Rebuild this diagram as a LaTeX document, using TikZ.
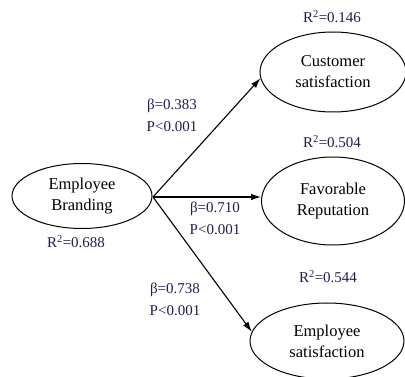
\documentclass[tikz,border=0pt]{standalone}
\usepackage{fontspec}
\setmainfont{Liberation Serif}
\usetikzlibrary{shapes.geometric,arrows.meta}
\definecolor{statcol}{RGB}{30,30,75}
\tikzset{
  var/.style={draw=black, line width=1pt, ellipse, inner sep=0pt, align=center,
    font=\fontsize{16.5}{21}\selectfont},
  stat/.style={text=statcol, inner sep=0pt, align=center, font=\fontsize{15}{22}\selectfont},
  path/.style={line width=1.1pt, -{Latex[length=10pt,width=6.5pt]}}
}
\begin{document}
\begin{tikzpicture}[x=1pt,y=-1pt]
\useasboundingbox (0,0) rectangle (405,377);
\node[var, minimum width=140pt, minimum height=65pt] (eb) at (82,196) {Employee\\Branding};
\node[var, minimum width=146pt, minimum height=80pt] (cs) at (333,72) {Customer\\satisfaction};
\node[var, minimum width=143pt, minimum height=88pt] (fr) at (333,201) {Favorable\\Reputation};
\node[var, minimum width=154pt, minimum height=76pt] (es) at (327,341) {Employee\\satisfaction};
\coordinate (o) at (153,197);
\draw[path] (o) -- (cs.{185});
\draw[path] (o) -- (fr.west |- o);
\draw[path] (o) -- (es.{173});
\node[stat] (r1) at (332,17) {R\textsuperscript{2}=0.146};
\node[stat] (r2) at (332,142) {R\textsuperscript{2}=0.504};
\node[stat] (r3) at (76,242) {R\textsuperscript{2}=0.688};
\node[stat] (r4) at (328,277) {R\textsuperscript{2}=0.544};
\node[stat] (b1) at (172,115) {β=0.383\\P<0.001};
\node[stat] (b2) at (215,218) {β=0.710\\P<0.001};
\node[stat] (b3) at (175,299) {β=0.738\\P<0.001};
\end{tikzpicture}
\end{document}
